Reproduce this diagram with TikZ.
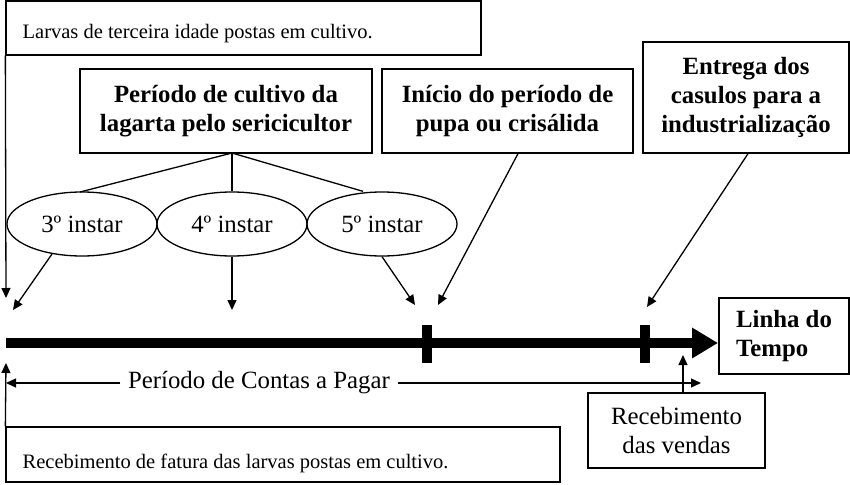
\documentclass[tikz,border=0pt]{standalone}
\usepackage{fontspec}
\setmainfont{Liberation Serif}
\usetikzlibrary{arrows.meta,shapes.geometric}
\begin{document}
\begin{tikzpicture}[x=1pt,y=-1pt,
  line width=1.3pt,
  big/.style={font=\fontsize{24.8}{29}\selectfont},
  bigb/.style={font=\fontsize{24.8}{29}\selectfont\bfseries},
  small/.style={font=\fontsize{20.5}{24}\selectfont},
  box/.style={draw, inner sep=0pt, align=center},
  stage/.style={draw, ellipse, inner sep=0pt, minimum width=150pt, minimum height=64pt, big},
  arr/.style={-{Triangle[length=10pt,width=9pt]}},
  tickmark/.style={fill=black, inner sep=0pt, minimum width=10pt, minimum height=38pt}
]
\useasboundingbox (0,0) rectangle (850,484);
% top box
\node[draw, inner sep=0pt, minimum width=475pt, minimum height=54pt] (topbox) at (243.5,28) {};
\node[small, anchor=base west, inner sep=0pt] (toptext) at (22,39) {Larvas de terceira idade postas em cultivo.};
% bottom box
\node[draw, inner sep=0pt, minimum width=554pt, minimum height=55pt] (botbox) at (283,454.5) {};
\node[small, anchor=base west, inner sep=0pt] (bottext) at (22,468) {Recebimento de fatura das larvas postas em cultivo.};
% bold boxes
\node[box, bigb, minimum width=292pt, minimum height=84pt] (per) at (226,111) {Período de cultivo da\\lagarta pelo sericicultor};
\node[box, bigb, minimum width=251pt, minimum height=84pt] (ini) at (507.5,111) {Início do período de\\pupa ou crisálida};
\node[box, bigb, minimum width=206pt, minimum height=111pt] (ent) at (746,97.5) {Entrega dos\\casulos para a\\industrialização};
\node[box, bigb, minimum width=130pt, minimum height=76pt, align=left] (linha) at (784,336) {Linha do\\Tempo};
\node[box, big, minimum width=177pt, minimum height=75pt] (rv) at (676.5,430.5) {Recebimento\\das vendas};
% ellipses
\node[stage] (e3) at (82,224) {3º instar};
\node[stage] (e4) at (232,224) {4º instar};
\node[stage] (e5) at (382,224) {5º instar};
% tree lines
\coordinate (j) at (232,153);
\draw (j) -- (80,192);
\draw (j) -- (e4.north);
\draw (j) -- ([xshift=-19pt]e5.north);
% timeline
\coordinate (t0) at (6,343);
\coordinate (t1) at (718,343);
\draw[line width=10pt, -{Triangle[length=26pt,width=29pt]}] (t0) -- (t1);
\node[tickmark] (k1) at (427,344) {};
\node[tickmark] (k2) at (645,344) {};
% arrows onto timeline
\coordinate (a0) at (6,298);
\coordinate (a3) at (13,310);
\coordinate (a4) at (232,310);
\coordinate (a5) at (415,305);
\coordinate (ai) at (438,305);
\coordinate (ae) at (647,307);
\coordinate (ab) at (6,363);
\coordinate (ar) at (683,355);
\draw[arr] (topbox.south west) -- (a0);
\draw[arr] (e3.-135) -- (a3);
\draw[arr] (e4.south) -- (a4);
\draw[arr] (e5.south) -- (a5);
\draw[arr] ([xshift=10.5pt]ini.south) -- (ai);
\draw[arr] ([xshift=2pt]ent.south) -- (ae);
\draw[arr] (botbox.north west) -- (ab);
\draw[arr] ([xshift=6.5pt]rv.north) -- (ar);
% contas a pagar
\node[big, inner xsep=7pt, inner ysep=0pt] (contas) at (259,383) {Período de Contas a Pagar};
\coordinate (cl) at (6,383);
\coordinate (cr) at (701,383);
\draw[arr] (contas.west) -- (cl);
\draw[arr] (contas.east) -- (cr);
\end{tikzpicture}
\end{document}
